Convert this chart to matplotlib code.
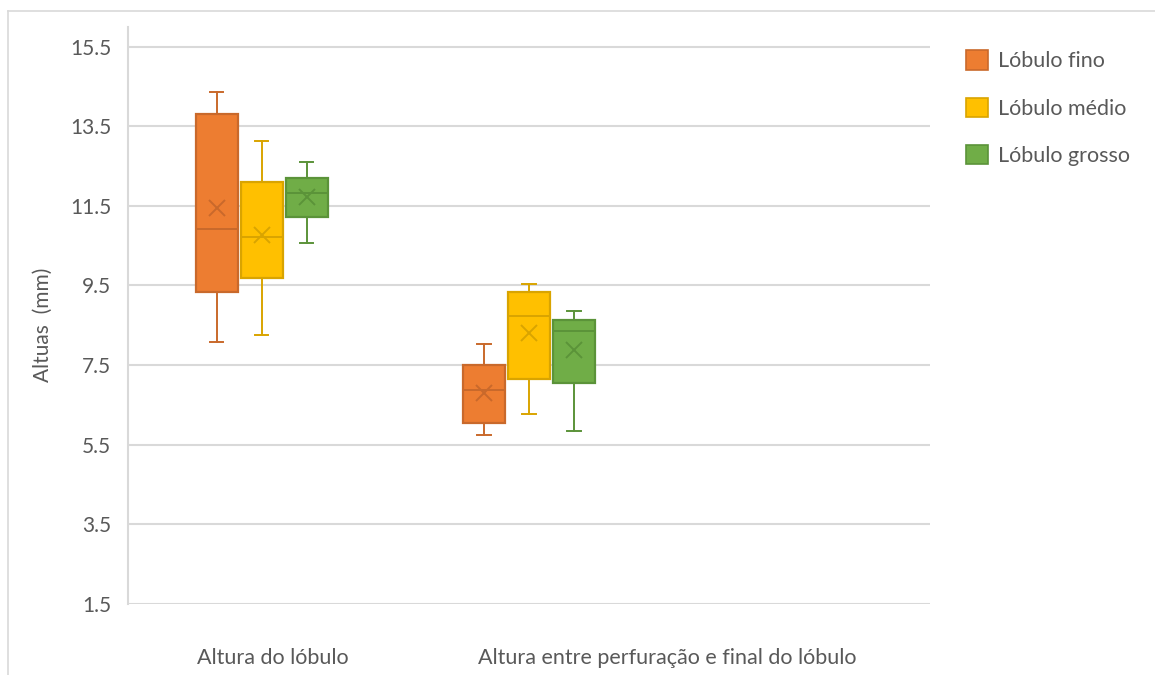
import matplotlib
matplotlib.use("Agg")
import matplotlib.pyplot as plt
from matplotlib.patches import Patch
from matplotlib.lines import Line2D

plt.rcParams['font.family'] = ['Lato', 'DejaVu Sans']

# Categories and series
categories = ["Altura do lóbulo", "Altura entre perfuração e final do lóbulo"]
series = ["Lóbulo fino", "Lóbulo médio", "Lóbulo grosso"]

# Five-number summaries and means per series (one value per category)
whis_low = {
    "Lóbulo fino":   [8.08, 5.74],
    "Lóbulo médio":  [8.26, 6.27],
    "Lóbulo grosso": [10.56, 5.84],
}
q1 = {
    "Lóbulo fino":   [9.33, 6.05],
    "Lóbulo médio":  [9.69, 7.15],
    "Lóbulo grosso": [11.22, 7.05],
}
median = {
    "Lóbulo fino":   [10.93, 6.88],
    "Lóbulo médio":  [10.73, 8.74],
    "Lóbulo grosso": [11.82, 8.35],
}
q3 = {
    "Lóbulo fino":   [13.80, 7.51],
    "Lóbulo médio":  [12.09, 9.33],
    "Lóbulo grosso": [12.21, 8.63],
}
whis_high = {
    "Lóbulo fino":   [14.36, 8.04],
    "Lóbulo médio":  [13.13, 9.54],
    "Lóbulo grosso": [12.60, 8.87],
}
mean = {
    "Lóbulo fino":   [11.44, 6.80],
    "Lóbulo médio":  [10.77, 8.31],
    "Lóbulo grosso": [11.72, 7.89],
}

y_ticks = [1.5, 3.5, 5.5, 7.5, 9.5, 11.5, 13.5, 15.5]

fill_colors = {"Lóbulo fino": "#ED7D31", "Lóbulo médio": "#FFC000", "Lóbulo grosso": "#70AD47"}
edge_colors = {"Lóbulo fino": "#C9692B", "Lóbulo médio": "#D9A400", "Lóbulo grosso": "#5B9339"}

text_color = "#595959"
grid_color = "#D9D9D9"

fig = plt.figure(figsize=(11.55, 6.75), dpi=100)
ax = fig.add_axes([128 / 1155, 71 / 675, 802 / 1155, 577.3 / 675])

box_width = 0.157
offsets = [-0.168, 0.0, 0.168]

for s, off in zip(series, offsets):
    stats = []
    for i in range(len(categories)):
        stats.append(dict(
            whislo=whis_low[s][i], q1=q1[s][i], med=median[s][i],
            q3=q3[s][i], whishi=whis_high[s][i], mean=mean[s][i], fliers=[],
        ))
    positions = [i + off for i in range(len(categories))]
    ec = edge_colors[s]
    ax.bxp(
        stats, positions=positions, widths=box_width, patch_artist=True,
        showmeans=True, showfliers=False, capwidths=0.05,
        boxprops=dict(facecolor=fill_colors[s], edgecolor=ec, linewidth=1.6),
        medianprops=dict(color=ec, linewidth=1.4),
        whiskerprops=dict(color=ec, linewidth=1.4),
        capprops=dict(color=ec, linewidth=1.4),
        meanprops=dict(marker="x", markersize=12, markeredgecolor=ec,
                       markeredgewidth=1.4, linestyle="none"),
        manage_ticks=False,
    )

ax.set_xlim(-0.5, 2.5)
ax.set_ylim(1.5, 16.0)
ax.set_yticks(y_ticks)
ax.set_yticklabels([f"{v:.1f}" for v in y_ticks])
ax.set_xticks([])
ax.yaxis.grid(True, color=grid_color, linewidth=1.5)
ax.set_axisbelow(True)
for side in ["top", "right", "bottom"]:
    ax.spines[side].set_visible(False)
ax.spines["left"].set_color(grid_color)
ax.spines["left"].set_linewidth(1.5)
ax.tick_params(axis="y", length=0, pad=12, labelsize=15, labelcolor=text_color)

ax.set_ylabel("Altuas  (mm)", fontsize=15, color=text_color)
ax.yaxis.set_label_coords(-0.094, 0.483)

# Category labels under the plot
label_x = [0.042, 1.516]
for xpos, cat in zip(label_x, categories):
    ax.text(xpos, -0.093, cat, transform=ax.get_xaxis_transform(),
            ha="center", va="center", fontsize=15.5, color=text_color)

handles = [Patch(facecolor=fill_colors[s], edgecolor=edge_colors[s], linewidth=1.2) for s in series]
fig.legend(handles, series, loc="upper left", bbox_to_anchor=(947 / 1155, 1 - 31 / 675),
           frameon=False, fontsize=15.5, labelcolor=text_color,
           handlelength=1.0, handleheight=1.0, handletextpad=0.45, labelspacing=1.22)

# Outer frame lines along top and left
fig.add_artist(Line2D([7.5 / 1155, 1.0], [1 - 10.5 / 675, 1 - 10.5 / 675],
                      transform=fig.transFigure, color=grid_color, linewidth=1.2))
fig.add_artist(Line2D([7.5 / 1155, 7.5 / 1155], [0.0, 1 - 10.5 / 675],
                      transform=fig.transFigure, color=grid_color, linewidth=1.2))

fig.savefig("out.png", dpi=100)
